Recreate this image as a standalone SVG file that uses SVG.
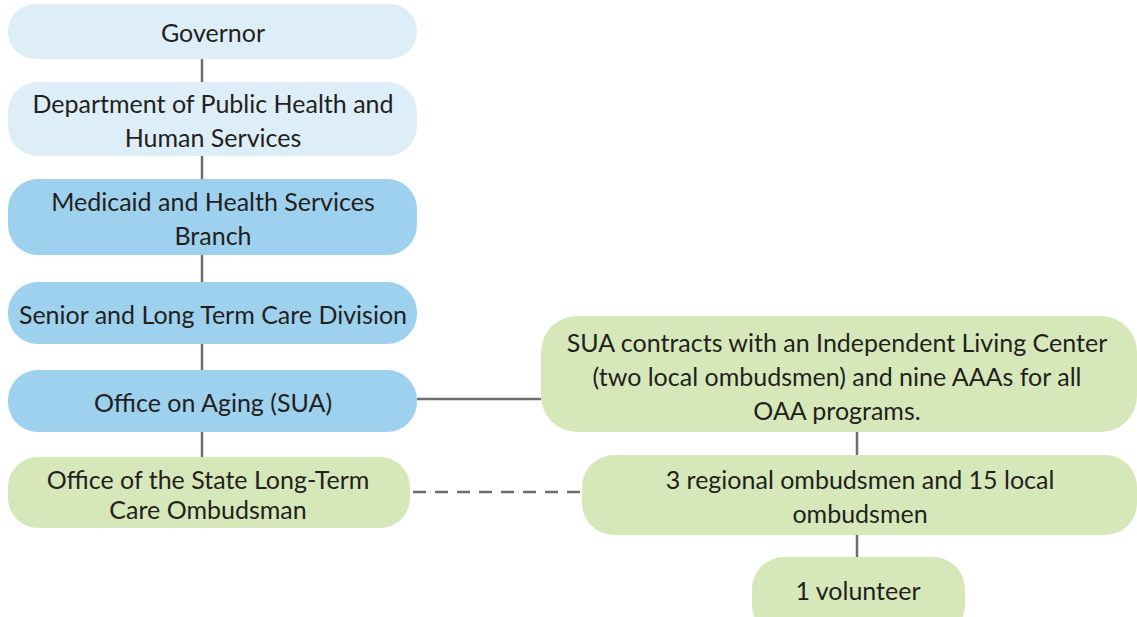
<svg xmlns="http://www.w3.org/2000/svg" width="1137" height="617" viewBox="0 0 1137 617">
<style>
text{font-family:Lato,"Open Sans","Liberation Sans",sans-serif;font-size:25px;fill:#231F20;text-anchor:middle}
.lb{fill:#DDEEF9}
.mb{fill:#9DD1EE}
.gr{fill:#D6E8BA}
.ln{stroke:#6D6E71;stroke-width:2.5;fill:none}
.dash{stroke-dasharray:13 9}
</style>
<rect width="1137" height="617" fill="#FFFFFF"/>
<g id="connectors">
<line class="ln" x1="202" y1="59" x2="202" y2="82"/>
<line class="ln" x1="202" y1="156" x2="202" y2="179"/>
<line class="ln" x1="202" y1="255" x2="202" y2="282"/>
<line class="ln" x1="202" y1="344" x2="202" y2="370"/>
<line class="ln" x1="202" y1="432" x2="202" y2="457"/>
<line class="ln" x1="417" y1="399" x2="541" y2="399"/>
<line class="ln dash" x1="413" y1="492" x2="582" y2="492"/>
<line class="ln" x1="857" y1="432" x2="857" y2="455"/>
<line class="ln" x1="857" y1="535" x2="857" y2="557"/>
</g>
<g id="governor">
<rect class="lb" x="8" y="4" width="409" height="55" rx="27"/>
<text x="213" y="42">Governor</text>
</g>
<g id="dphhs">
<rect class="lb" x="8" y="82" width="409" height="74" rx="30"/>
<text x="213" y="113">Department of Public Health and</text>
<text x="213" y="147">Human Services</text>
</g>
<g id="medicaid">
<rect class="mb" x="8" y="179" width="409" height="76" rx="30"/>
<text x="213" y="211">Medicaid and Health Services</text>
<text x="213" y="245">Branch</text>
</g>
<g id="senior">
<rect class="mb" x="8" y="282" width="409" height="62" rx="30"/>
<text x="213" y="324">Senior and Long Term Care Division</text>
</g>
<g id="oa">
<rect class="mb" x="8" y="370" width="409" height="62" rx="30"/>
<text x="213" y="412">Office on Aging (SUA)</text>
</g>
<g id="ltco">
<rect class="gr" x="8" y="457" width="402" height="71" rx="30"/>
<text x="208" y="489">Office of the State Long-Term</text>
<text x="208" y="519">Care Ombudsman</text>
</g>
<g id="sua">
<rect class="gr" x="541" y="316" width="596" height="116" rx="36"/>
<text x="837" y="352">SUA contracts with an Independent Living Center</text>
<text x="837" y="386">(two local ombudsmen) and nine AAAs for all</text>
<text x="837" y="420">OAA programs.</text>
</g>
<g id="regional">
<rect class="gr" x="582" y="455" width="555" height="80" rx="32"/>
<text x="860" y="489">3 regional ombudsmen and 15 local</text>
<text x="860" y="523">ombudsmen</text>
</g>
<g id="volunteer">
<rect class="gr" x="752" y="557" width="213" height="80" rx="32"/>
<text x="858" y="600">1 volunteer</text>
</g>
</svg>
